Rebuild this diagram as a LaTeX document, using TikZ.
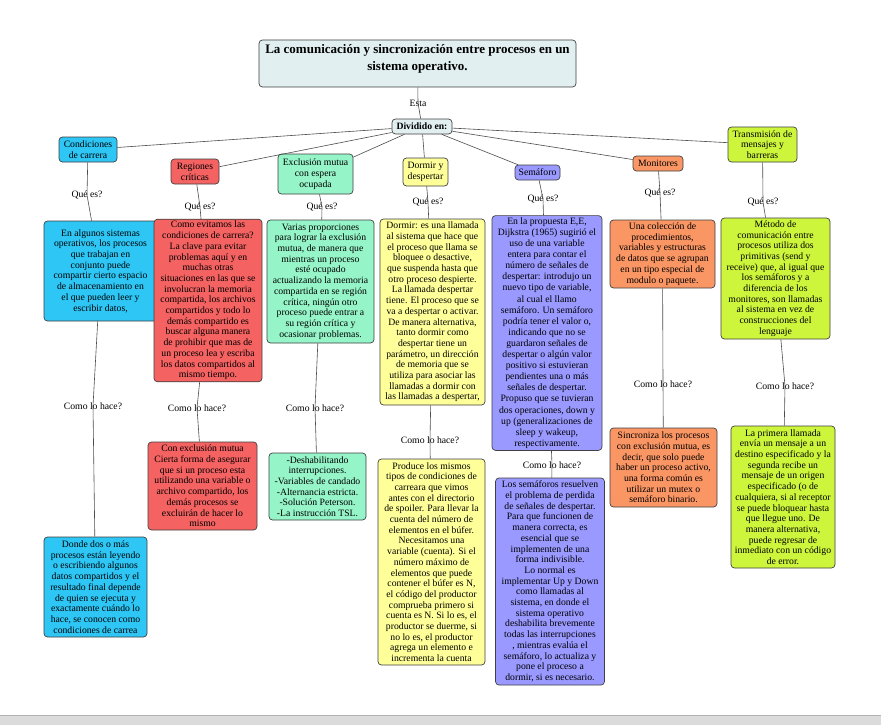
\documentclass[tikz,border=0pt]{standalone}
\usepackage{fontspec}
\setmainfont{Liberation Serif}
\definecolor{headc}{RGB}{226,239,241}
\definecolor{cyanc}{RGB}{45,198,245}
\definecolor{redc}{RGB}{244,98,98}
\definecolor{mintc}{RGB}{150,245,200}
\definecolor{yellowc}{RGB}{255,255,153}
\definecolor{lavc}{RGB}{153,153,255}
\definecolor{orangec}{RGB}{250,150,100}
\definecolor{limec}{RGB}{205,245,60}
\begin{document}
\begin{tikzpicture}[x=1pt,y=-1pt,
  conn/.style={draw=black!70, line width=0.6pt},
  box/.style={draw=black!75, line width=0.7pt, rounded corners=3.5pt, align=center,
    inner sep=2pt, font=\fontsize{9.7}{10.7}\selectfont},
  lbl/.style={inner sep=1pt, font=\fontsize{9.7}{11}\selectfont},
]
\useasboundingbox (0,0) rectangle (881,725);
\fill[white] (0,0) rectangle (881,725);
\fill[black!14] (0,715) rectangle (881,725);
\draw[black!30] (0,715) -- (881,715);

% central topic
\node[box, fill=headc, minimum width=317pt, minimum height=47pt,
  font=\fontsize{13}{17}\bfseries\selectfont] (title) at (417.5,63.5)
  {La comunicación y sincronización entre procesos en un\\sistema operativo.\rule[-12pt]{0pt}{12pt}};
\node[box, fill=headc, minimum width=60pt, minimum height=15pt,
  font=\fontsize{9.7}{11}\bfseries\selectfont] (div) at (422,126.5) {Dividido en:};
\node[lbl] (esta) at (418,103) {Esta};

% first level
\node[box, fill=cyanc, minimum width=58pt, minimum height=25pt] (cond1) at (88,149.5) {Condiciones\\de carrera};
\node[box, fill=redc, minimum width=48pt, minimum height=25pt] (reg1) at (195,171.5) {Regiones\\críticas};
\node[box, fill=mintc, minimum width=75pt, minimum height=40pt] (exc1) at (315.5,174) {Exclusión mutua\\con espera\\ocupada};
\node[box, fill=yellowc, minimum width=45pt, minimum height=28pt] (dor1) at (425.5,172) {Dormir y\\despertar};
\node[box, fill=lavc, minimum width=45pt, minimum height=15pt] (sem1) at (537.5,172.5) {Semáforo};
\node[box, fill=orangec, minimum width=50pt, minimum height=15pt] (mon1) at (658,163.5) {Monitores};
\node[box, fill=limec, minimum width=69pt, minimum height=35pt] (tra1) at (762.5,144.5) {Transmisión de\\mensajes y\\barreras};

% second level: what it is
\node[box, fill=cyanc, minimum width=113pt, minimum height=100pt] (cond2) at (100.5,271)
  {En algunos sistemas\\operativos, los procesos\\que trabajan en\\conjunto puede\\compartir cierto espacio\\de almacenamiento en\\el que pueden leer y\\escribir datos,};
\node[box, fill=redc, minimum width=108pt, minimum height=161pt] (reg2) at (208,300.5)
  {Como evitamos las\\condiciones de carrera?\\La clave para evitar\\problemas aquí y en\\muchas otras\\situaciones en las que se\\involucran la memoria\\compartida, los archivos\\compartidos y todo lo\\demás compartido es\\buscar alguna manera\\de prohibir que mas de\\un proceso lea y escriba\\los datos compartidos al\\mismo tiempo.};
\node[box, fill=mintc, minimum width=107pt, minimum height=123pt] (exc2) at (320.5,281.5)
  {Varias proporciones\\para lograr la exclusión\\mutua, de manera que\\mientras un proceso\\esté ocupado\\actualizando la memoria\\compartida en se región\\crítica, ningún otro\\proceso puede entrar a\\su región crítica y\\ocasionar problemas.};
\node[box, fill=yellowc, minimum width=105pt, minimum height=186pt] (dor2) at (432.5,312)
  {Dormir: es una llamada\\al sistema que hace que\\el proceso que llama se\\bloquee o desactive,\\que suspenda hasta que\\otro proceso despierte.\\La llamada despertar\\tiene. El proceso que se\\va a despertar o activar.\\De manera alternativa,\\tanto dormir como\\despertar tiene un\\parámetro, un dirección\\de memoria que se\\utiliza para asociar las\\llamadas a dormir con\\las llamadas a despertar,};
\node[box, fill=lavc, minimum width=110pt, minimum height=228pt,
  font=\fontsize{9.7}{11.1}\selectfont] (sem2) at (547,333)
  {En la propuesta E,E,\\Dijkstra (1965) sugirió el\\uso de una variable\\entera para contar el\\número de señales de\\despertar: introdujo un\\nuevo tipo de variable,\\al cual el llamo\\semáforo. Un semáforo\\podría tener el valor o,\\indicando que no se\\guardaron señales de\\despertar o algún valor\\positivo si estuvieran\\pendientes una o más\\señales de despertar.\\Propuso que se tuvieran\\dos operaciones, down y\\up (generalizaciones de\\sleep y wakeup,\\respectivamente.};
\node[box, fill=orangec, minimum width=105pt, minimum height=68pt] (mon2) at (662.5,254)
  {Una colección de\\procedimientos,\\variables y estructuras\\de datos que se agrupan\\en un tipo especial de\\modulo o paquete.};
\node[box, fill=limec, minimum width=109pt, minimum height=121pt] (tra2) at (775.5,278.5)
  {Método de\\comunicación entre\\procesos utiliza dos\\primitivas (send y\\receive) que, al igual que\\los semáforos y a\\diferencia de los\\monitores, son llamadas\\al sistema en vez de\\construcciones del\\lenguaje};

% third level: how it is done
\node[box, fill=cyanc, minimum width=103pt, minimum height=100pt] (cond3) at (95.5,587)
  {Donde dos o más\\procesos están leyendo\\o escribiendo algunos\\datos compartidos y el\\resultado final depende\\de quien se ejecuta y\\exactamente cuándo lo\\hace, se conocen como\\condiciones de carrea};
\node[box, fill=redc, minimum width=109pt, minimum height=88pt] (reg3) at (202.5,486)
  {Con exclusión mutua\\Cierta forma de asegurar\\que si un proceso esta\\utilizando una variable o\\archivo compartido, los\\demás procesos se\\excluirán de hacer lo\\mismo};
\node[box, fill=mintc, minimum width=97pt, minimum height=67pt] (exc3) at (317.5,486.5)
  {-Deshabilitando\\interrupciones.\\-Variables de candado\\-Alternancia estricta.\\-Solución Peterson.\\-La instrucción TSL.};
\node[box, fill=yellowc, minimum width=107pt, minimum height=206pt] (dor3) at (431.5,562)
  {Produce los mismos\\tipos de condiciones de\\carreara que vimos\\antes con el directorio\\de spoiler. Para llevar la\\cuenta del número de\\elementos en el búfer.\\Necesitamos una\\variable (cuenta). Si el\\número máximo de\\elementos que puede\\contener el búfer es N,\\el código del productor\\comprueba primero si\\cuenta es N. Si lo es, el\\productor se duerme, si\\no lo es, el productor\\agrega un elemento e\\incrementa la cuenta};
\node[box, fill=lavc, minimum width=109pt, minimum height=207pt] (sem3) at (550,581.5)
  {Los semáforos resuelven\\el problema de perdida\\de señales de despertar.\\Para que funcionen de\\manera correcta, es\\esencial que se\\implementen de una\\forma indivisible.\\Lo normal es\\implementar Up y Down\\como llamadas al\\sistema, en donde el\\sistema operativo\\deshabilita brevemente\\todas las interrupciones\\, mientras evalúa el\\semáforo, lo actualiza y\\pone el proceso a\\dormir, si es necesario.};
\node[box, fill=orangec, minimum width=107pt, minimum height=79pt] (mon3) at (663.5,467.5)
  {Sincroniza los procesos\\con exclusión mutua, es\\decir, que solo puede\\haber un proceso activo,\\una forma común es\\utilizar un mutex o\\semáforo binario.};
\node[box, fill=limec, minimum width=104pt, minimum height=142pt] (tra3) at (783,497)
  {La primera llamada\\envía un mensaje a un\\destino especificado y la\\segunda recibe un\\mensaje de un origen\\especificado (o de\\cualquiera, si al receptor\\se puede bloquear hasta\\que llegue uno. De\\manera alternativa,\\puede regresar de\\inmediato con un código\\de error.};

% linking phrases
\node[lbl] (cq) at (87,195) {Qué es?};
\node[lbl] (rq) at (200,207) {Qué es?};
\node[lbl] (eq) at (322,207) {Qué es?};
\node[lbl] (dq) at (428,202) {Qué es?};
\node[lbl] (sq) at (543,199) {Qué es?};
\node[lbl] (mq) at (660,193) {Qué es?};
\node[lbl] (tq) at (763,202) {Qué es?};
\node[lbl] (ch) at (93,406) {Como lo hace?};
\node[lbl] (rh) at (197,408) {Como lo hace?};
\node[lbl] (eh) at (315,408) {Como lo hace?};
\node[lbl] (dh) at (430,440) {Como lo hace?};
\node[lbl] (sh) at (552,465) {Como lo hace?};
\node[lbl] (mh) at (663,384) {Como lo hace?};
\node[lbl] (th) at (785,386) {Como lo hace?};

% connectors
\draw[conn] (title) -- (esta.center) -- (div);
\foreach \n in {cond1,reg1,exc1,dor1,sem1,mon1,tra1} \draw[conn] (div) -- (\n);
\draw[conn] (cond1) -- (cq.center) -- (cond2);
\draw[conn] (reg1) -- (rq.center) -- (reg2);
\draw[conn] (exc1) -- (eq.center) -- (exc2);
\draw[conn] (dor1) -- (dq.center) -- (dor2);
\draw[conn] (sem1) -- (sq.center) -- (sem2);
\draw[conn] (mon1) -- (mq.center) -- (mon2);
\draw[conn] (tra1) -- (tq.center) -- (tra2);
\draw[conn] (cond2) -- (ch.center) -- (cond3);
\draw[conn] (reg2) -- (rh.center) -- (reg3);
\draw[conn] (exc2) -- (eh.center) -- (exc3);
\draw[conn] (dor2) -- (dh.center) -- (dor3);
\draw[conn] (sem2) -- (sh.center) -- (sem3);
\draw[conn] (mon2) -- (mh.center) -- (mon3);
\draw[conn] (tra2) -- (th.center) -- (tra3);
\end{tikzpicture}
\end{document}
